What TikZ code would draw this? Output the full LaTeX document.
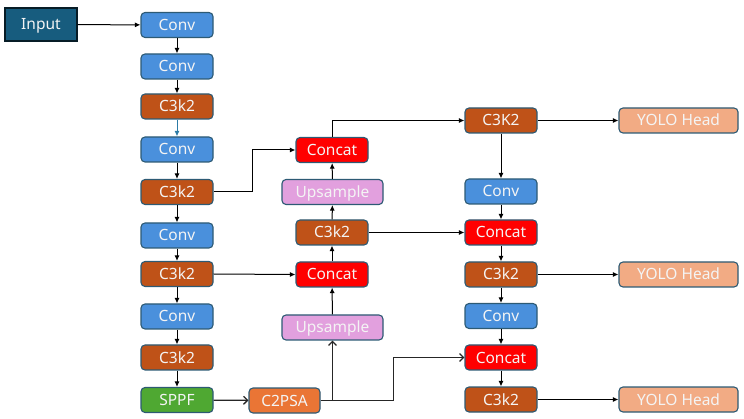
\documentclass[tikz,border=0pt]{standalone}
\usepackage{fontspec}
\setmainfont{Noto Sans}
\usetikzlibrary{arrows.meta}
\definecolor{bordc}{HTML}{2D5A74}
\definecolor{inputc}{HTML}{175C7E}
\definecolor{convc}{HTML}{4A90DC}
\definecolor{c3c}{HTML}{BF5218}
\definecolor{catc}{HTML}{FF0000}
\definecolor{upc}{HTML}{E2A0DE}
\definecolor{sppfc}{HTML}{4FA832}
\definecolor{psac}{HTML}{EA7535}
\definecolor{yoloc}{HTML}{F2AB84}
\definecolor{txtc}{HTML}{F4F4F4}
\definecolor{tealarr}{HTML}{2C7BA6}
\begin{document}
\begin{tikzpicture}[x=1pt,y=-1pt,
  blk/.style={draw=bordc,line width=1.1pt,rounded corners=4pt,minimum height=25pt,
    inner sep=0pt,text=txtc,font=\fontsize{15.5}{17}\selectfont,text height=11pt,text depth=0pt,minimum width=72pt},
  conv/.style={blk,fill=convc},
  cthree/.style={blk,fill=c3c},
  cat/.style={blk,fill=catc},
  ups/.style={blk,fill=upc,minimum width=101pt},
  sppf/.style={blk,fill=sppfc},
  psa/.style={blk,fill=psac,minimum width=71pt},
  yolo/.style={blk,fill=yoloc,minimum width=119pt},
  inp/.style={draw=black!70!inputc,line width=1.1pt,fill=inputc,minimum width=72pt,minimum height=33pt,
    inner sep=0pt,text=txtc,font=\fontsize{15.5}{17}\selectfont,text height=11pt,text depth=0pt},
  arr/.style={draw=black,line width=1pt,-{Latex[length=5.5pt,width=5pt]}},
  oarr/.style={draw=black!85,line width=1.3pt,-{Straight Barb[length=4pt,width=8pt]}}
]
\useasboundingbox (0,0) rectangle (744,419);
% column 1
\node[inp] (in) at (41,24.5) {Input};
\node[conv] (a1) at (177,25) {Conv};
\node[conv] (a2) at (177,66.5) {Conv};
\node[cthree] (a3) at (177,106.5) {C3k2};
\node[conv] (a4) at (177,149.5) {Conv};
\node[cthree] (a5) at (177,192) {C3k2};
\node[conv] (a6) at (177,235.5) {Conv};
\node[cthree] (a7) at (177,274) {C3k2};
\node[conv] (a8) at (177,316.5) {Conv};
\node[cthree] (a9) at (177,357.5) {C3k2};
\node[sppf] (sp) at (177,400) {SPPF};
% column 2
\node[cat] (b1) at (332,150) {Concat};
\node[ups] (b2) at (332.5,192) {Upsample};
\node[cthree] (b3) at (332,232.5) {C3k2};
\node[cat] (b4) at (332,274.5) {Concat};
\node[ups] (b5) at (332.5,327.5) {Upsample};
\node[psa] (ps) at (284.5,400.5) {C2PSA};
% column 3
\node[cthree] (r1) at (501,120.5) {C3K2};
\node[conv] (r2) at (501,191.5) {Conv};
\node[cat] (r3) at (501,232.5) {Concat};
\node[cthree] (r4) at (501,274.5) {C3k2};
\node[conv] (r5) at (501,316) {Conv};
\node[cat] (r6) at (501,357.5) {Concat};
\node[cthree] (r7) at (501,399.5) {C3k2};
% heads
\node[yolo] (y1) at (678.5,120.5) {YOLO Head};
\node[yolo] (y2) at (678.5,274.5) {YOLO Head};
\node[yolo] (y3) at (678.5,399.5) {YOLO Head};
% connectors
\draw[arr] (in) -- (a1);
\draw[arr] (a1) -- (a2);
\draw[arr] (a2) -- (a3);
\draw[arr,draw=tealarr,-{Latex[length=5.5pt,width=5pt,fill=tealarr]}] (a3) -- (a4);
\draw[arr] (a4) -- (a5);
\draw[arr] (a5) -- (a6);
\draw[arr] (a6) -- (a7);
\draw[arr] (a7) -- (a8);
\draw[arr] (a8) -- (a9);
\draw[arr] (a9) -- (sp);
\draw[arr] (a5.east) -- ([xshift=39pt]a5.east) |- (b1.west);
\draw[arr] (a7.east) -- (b4.west);
\draw[oarr] (sp) -- (ps);
\draw[oarr] (ps.east) -| (b5.south);
\draw[oarr] (ps.east) -- ([xshift=73pt]ps.east) |- (r6.west);
\draw[arr] (b5) -- (b4);
\draw[arr] (b4) -- (b3);
\draw[arr] (b3) -- (b2);
\draw[arr] (b2) -- (b1);
\draw[arr] (b1.north) |- (r1.west);
\draw[arr] (b3.east) -- (r3.west);
\draw[arr] (r1) -- (r2);
\draw[arr] (r2) -- (r3);
\draw[arr] (r3) -- (r4);
\draw[arr] (r4) -- (r5);
\draw[arr] (r5) -- (r6);
\draw[arr] (r6) -- (r7);
\draw[arr] (r1) -- (y1);
\draw[arr] (r4) -- (y2);
\draw[arr] (r7) -- (y3);
\end{tikzpicture}
\end{document}
